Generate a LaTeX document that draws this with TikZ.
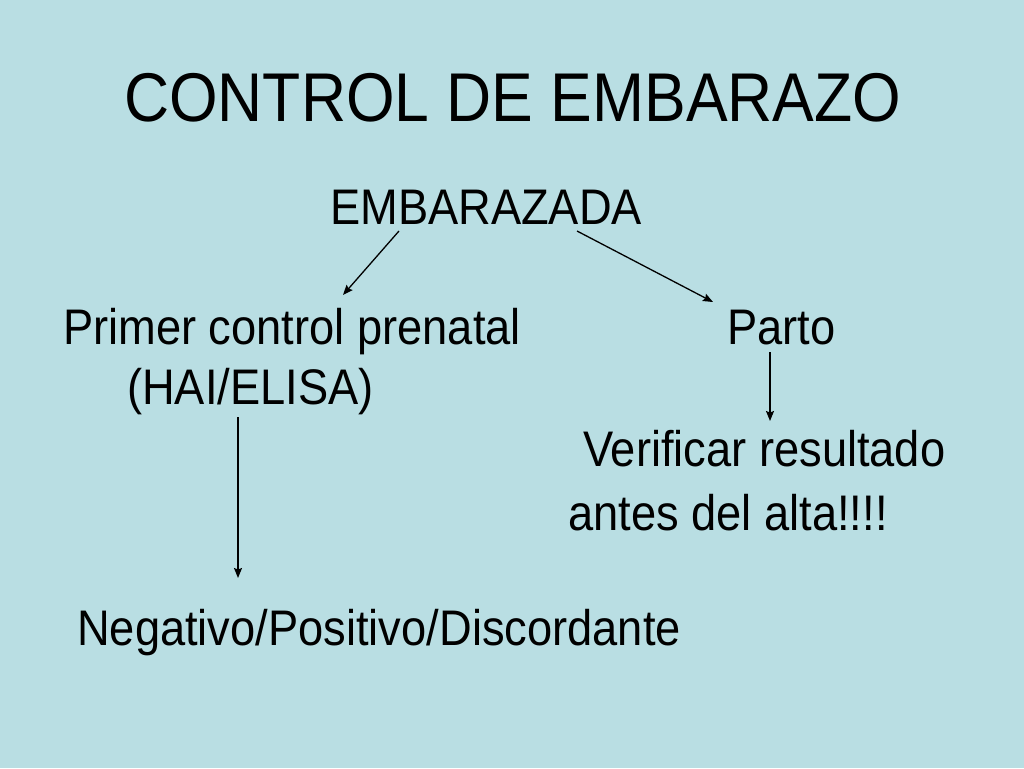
\documentclass[tikz,border=0pt]{standalone}
\usepackage{fontspec}
\setmainfont{Liberation Sans}[FakeStretch=0.905]
\usetikzlibrary{arrows.meta,calc}
\definecolor{bg}{RGB}{185,222,227}
\begin{document}
\begin{tikzpicture}[x=1pt,y=-1pt,
  txt/.style={anchor=base west,inner sep=0pt,font=\fontsize{50}{60}\selectfont},
  ttl/.style={anchor=base west,inner sep=0pt,font=\fontsize{69}{80}\selectfont},
  arr/.style={-{Stealth[length=10pt,width=8pt,inset=1.5pt]},line width=1.3pt}]
\fill[bg] (0,0) rectangle (1024,768);
\useasboundingbox (0,0) rectangle (1024,768);
\node[ttl] (title) at (124,121) {CONTROL DE EMBARAZO};
\node[txt] (emb) at (330,224) {EMBARAZADA};
\node[txt] (pcp) at (63,344) {Primer control prenatal};
\node[txt] (hai) at (127,404) {(HAI/ELISA)};
\node[txt] (parto) at (727,344) {Parto};
\node[txt] (ver) at (583,466) {Verificar resultado};
\node[txt] (antes) at (568,530) {antes del alta!!!!};
\node[txt] (neg) at (77,645) {Negativo/Positivo/Discordante};
\coordinate (a1s) at (399,231);
\coordinate (a1e) at (343,295);
\coordinate (a2s) at (577,231);
\coordinate (a2e) at (713,302);
\coordinate (a3s) at (770,352);
\coordinate (a3e) at (770,421);
\coordinate (a4s) at (238,417);
\coordinate (a4e) at (238,578);
\draw[arr] (a1s) -- (a1e);
\draw[arr] (a2s) -- (a2e);
\draw[arr] (a3s) -- (a3e);
\draw[arr] (a4s) -- (a4e);
\end{tikzpicture}
\end{document}
